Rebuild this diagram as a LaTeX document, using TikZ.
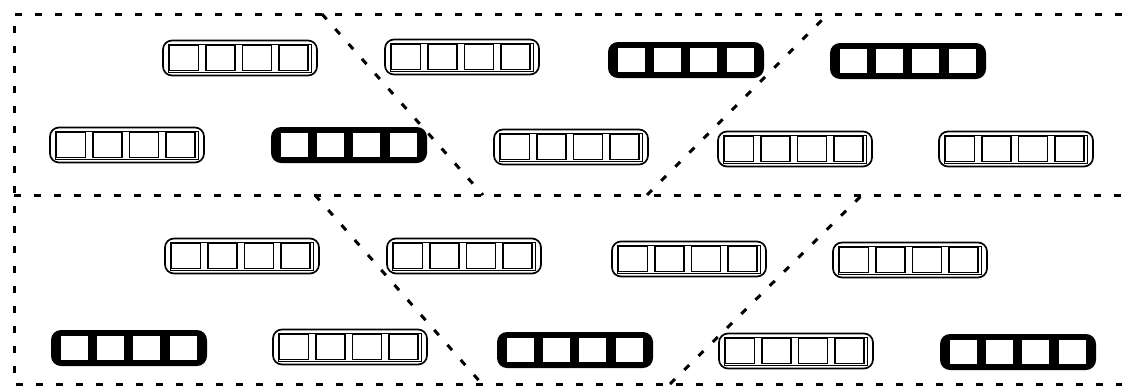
\documentclass[tikz,border=0pt]{standalone}
\begin{document}
\begin{tikzpicture}[x=1pt,y=-1pt,
  divider/.style={line width=3pt,dash pattern=on 7pt off 13pt},
  pics/thinbox/.style={code={
    \draw[line width=1.7pt,rounded corners=9pt] (-77,-17.5) rectangle (77,17.5);
    \draw[line width=1pt] (-72,-14) rectangle (71,14);
    \foreach \c in {-56,-19.5,17,53.5}
      \draw[line width=1.8pt] (\c-14.5,-12.5) rectangle (\c+14.5,12.5);
  }},
  pics/thickbox/.style={code={
    \fill[black,rounded corners=10pt] (-78,-18) rectangle (78,18);
    \foreach \c in {-54.5,-18.5,17.5,54.5}
      \fill[white] (\c-13.3,-12) rectangle (\c+13.3,12);
  }}]
\useasboundingbox (0,0) rectangle (1122,389);
% dividers
\coordinate (tl) at (14,14);
\coordinate (tr) at (1122,14);
\coordinate (ml) at (14,195);
\coordinate (mr) at (1122,195);
\coordinate (bl) at (14,384);
\coordinate (br) at (1122,384);
\coordinate (d1a) at (322,14);  \coordinate (d1b) at (483,195);
\coordinate (d2a) at (647,195); \coordinate (d2b) at (828,14);
\coordinate (d3a) at (315,195); \coordinate (d3b) at (482,384);
\coordinate (d4a) at (670,384); \coordinate (d4b) at (862,195);
\draw[divider] (tr) -- (tl) -- (bl) -- (br);
\draw[divider] (ml) -- (mr);
\draw[divider] (d1a) -- (d1b);
\draw[divider] (d2a) -- (d2b);
\draw[divider] (d3a) -- (d3b);
\draw[divider] (d4a) -- (d4b);
% row 1
\pic (A) at (240,58) {thinbox};
\pic (B) at (462,57) {thinbox};
\pic (C) at (686,60) {thickbox};
\pic (D) at (908,61) {thickbox};
% row 2
\pic (E) at (127,145) {thinbox};
\pic (F) at (349,145) {thickbox};
\pic (G) at (571,147) {thinbox};
\pic (H) at (795,149) {thinbox};
\pic (I) at (1016,149) {thinbox};
% row 3
\pic (J) at (242,256) {thinbox};
\pic (K) at (464,256) {thinbox};
\pic (L) at (689,259) {thinbox};
\pic (M) at (910,260) {thinbox};
% row 4
\pic (N) at (129,348) {thickbox};
\pic (O) at (350,347) {thinbox};
\pic (P) at (575,350) {thickbox};
\pic (Q) at (796,351) {thinbox};
\pic (R) at (1018,352) {thickbox};
\end{tikzpicture}
\end{document}
